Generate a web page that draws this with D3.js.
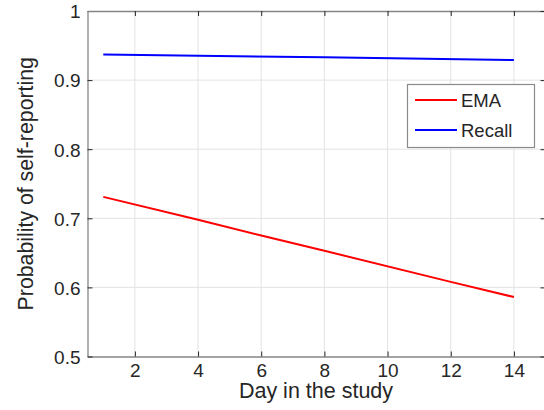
<!DOCTYPE html>
<html>
<head>
<meta charset="utf-8">
<script src="https://cdn.jsdelivr.net/npm/d3@7"></script>
<style>
  body { margin: 0; background: #fff; }
  text { font-family: "Liberation Sans", Arial, Helvetica, sans-serif; fill: #262626; }
</style>
</head>
<body>
<div id="chart"></div>
<script>
// values
var emaDays = [1, 4, 6, 8, 12, 14];
var emaProb = [0.731, 0.698, 0.675, 0.653, 0.608, 0.586];
var recallDays = [1, 8, 14];
var recallProb = [0.937, 0.933, 0.929];
var xTicks = [2, 4, 6, 8, 10, 12, 14];
var yTicks = [0.5, 0.6, 0.7, 0.8, 0.9, 1];
var seriesNames = ["EMA", "Recall"];
var seriesColors = ["#ff0000", "#0000ff"];

var margin = {top: 11, right: -1.5, bottom: 53.5, left: 87.5},
    width = 544 - margin.left - margin.right,
    height = 410 - margin.top - margin.bottom;

var svg = d3.select("#chart")
  .append("svg")
    .attr("width", 544)
    .attr("height", 410);

var g = svg.append("g")
    .attr("transform", "translate(" + margin.left + "," + margin.top + ")");

var x = d3.scaleLinear().domain([0.5, 15]).range([0, width]);
var y = d3.scaleLinear().domain([0.5, 1]).range([height, 0]);

// grid
g.append("g").selectAll("line")
  .data(xTicks)
  .enter().append("line")
    .attr("x1", function(d) { return x(d); })
    .attr("x2", function(d) { return x(d); })
    .attr("y1", 0).attr("y2", height)
    .attr("stroke", "#e3e3e3").attr("stroke-width", 1);

g.append("g").selectAll("line")
  .data(yTicks.slice(1, -1))
  .enter().append("line")
    .attr("y1", function(d) { return y(d); })
    .attr("y2", function(d) { return y(d); })
    .attr("x1", 0).attr("x2", width)
    .attr("stroke", "#e3e3e3").attr("stroke-width", 1);

// lines
var line = d3.line()
  .x(function(d) { return x(d[0]); })
  .y(function(d) { return y(d[1]); });

var series = [d3.zip(emaDays, emaProb), d3.zip(recallDays, recallProb)];

g.selectAll(".series")
  .data(series)
  .enter().append("path")
    .attr("class", "series")
    .attr("d", line)
    .attr("fill", "none")
    .attr("stroke", function(d, i) { return seriesColors[i]; })
    .attr("stroke-width", 2);

// axes, ticks pointing inward like matlab
var axisColor = "#858585";
var tickLen = 5;

var xAxis = g.append("g")
    .attr("transform", "translate(0," + height + ")")
    .call(d3.axisBottom(x).tickValues(xTicks).tickSizeInner(-tickLen).tickSizeOuter(0).tickPadding(7));

var yAxis = g.append("g")
    .call(d3.axisLeft(y).tickValues(yTicks).tickFormat(d3.format("")).tickSizeInner(-tickLen).tickSizeOuter(0).tickPadding(7));

var xTop = g.append("g")
    .call(d3.axisTop(x).tickValues(xTicks).tickSizeInner(-tickLen).tickSizeOuter(0).tickFormat(""));

var yRight = g.append("g")
    .attr("transform", "translate(" + width + ",0)")
    .call(d3.axisRight(y).tickValues(yTicks).tickSizeInner(-tickLen).tickSizeOuter(0).tickFormat(""));

[xAxis, yAxis, xTop, yRight].forEach(function(a) {
  a.select(".domain").attr("stroke", axisColor).attr("stroke-width", 1.3);
  a.selectAll(".tick line").attr("stroke", "#262626");
  a.selectAll("text")
    .attr("font-family", "Liberation Sans, Arial, sans-serif")
    .attr("font-size", "19px")
    .attr("fill", "#262626");
});
yAxis.selectAll("text").attr("dy", "0.36em");
xAxis.selectAll("text").attr("dy", "0.7em");

// axis labels
svg.append("text")
    .attr("x", 316)
    .attr("y", 398)
    .attr("text-anchor", "middle")
    .attr("font-size", "21.5px")
    .text("Day in the study");

svg.append("text")
    .attr("transform", "translate(33.3," + (margin.top + height / 2) + ") rotate(-90)")
    .attr("text-anchor", "middle")
    .attr("font-size", "21.3px")
    .text("Probability of self-reporting");

// legend
var legend = svg.append("g").attr("transform", "translate(407,84)");

legend.append("rect")
    .attr("x", 0.5).attr("y", 0.5)
    .attr("width", 127).attr("height", 63)
    .attr("fill", "#fff")
    .attr("stroke", "#8a8a8a")
    .attr("stroke-width", 1.2);

var items = legend.selectAll(".item")
  .data(seriesNames)
  .enter().append("g")
    .attr("class", "item")
    .attr("transform", function(d, i) { return "translate(0," + (16 + i * 30) + ")"; });

items.append("line")
    .attr("x1", 8).attr("x2", 50)
    .attr("stroke", function(d, i) { return seriesColors[i]; })
    .attr("stroke-width", 2);

items.append("text")
    .attr("x", 54)
    .attr("y", 6.5)
    .attr("font-size", "18.5px")
    .text(function(d) { return d; });
</script>
</body>
</html>
